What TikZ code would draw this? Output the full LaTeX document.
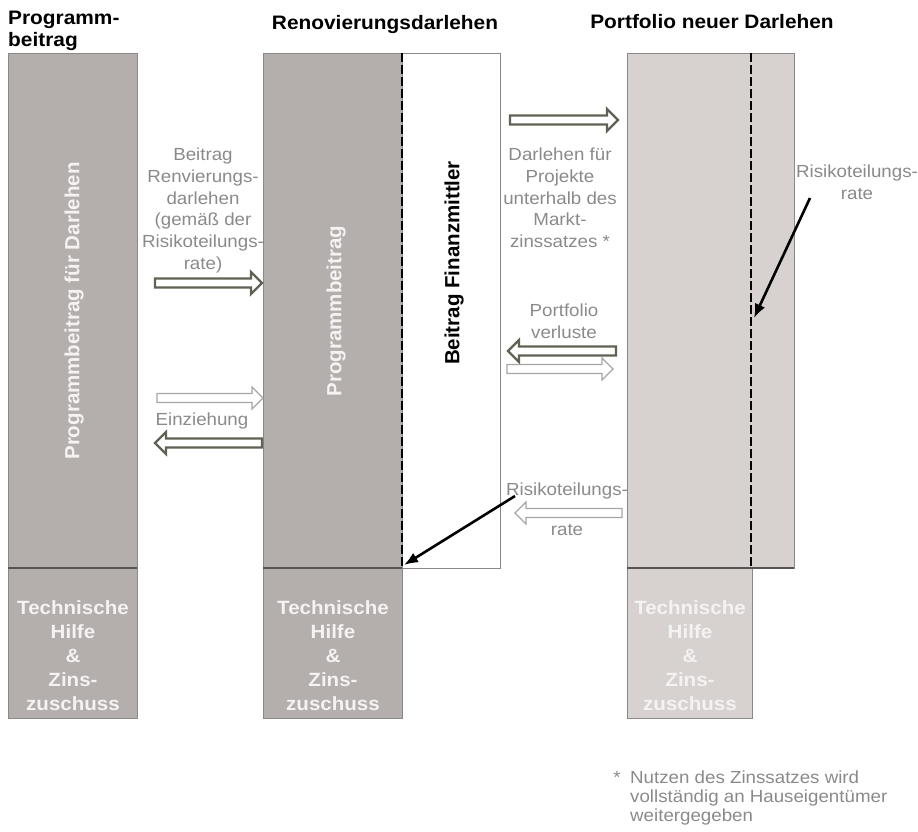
\documentclass[tikz,border=0pt]{standalone}
\usepackage{fontspec}
\setmainfont[FakeStretch=1.07]{Liberation Sans}
\newfontfamily\rotfont{Liberation Sans}
\usetikzlibrary{arrows.meta}
\definecolor{colgray}{HTML}{B4AEAC}
\definecolor{collight}{HTML}{D7D2D0}
\definecolor{edgegray}{HTML}{8C8888}
\definecolor{divgray}{HTML}{555555}
\definecolor{labelgray}{HTML}{8A8A8A}
\definecolor{arrowdark}{HTML}{5F6353}
\definecolor{arrowlight}{HTML}{A6A6A6}
\definecolor{boxtext}{HTML}{F4F2F2}
\newcommand\rblockarrow[4]{% style, xstart, xtip, y
  \draw[#1] (#2,#4-4.5) -- (#3-11,#4-4.5) -- (#3-11,#4-11) -- (#3,#4) -- (#3-11,#4+11) -- (#3-11,#4+4.5) -- (#2,#4+4.5) -- cycle;}
\newcommand\lblockarrow[4]{% style, xtip, xend, y
  \draw[#1] (#3,#4-4.5) -- (#2+11,#4-4.5) -- (#2+11,#4-11) -- (#2,#4) -- (#2+11,#4+11) -- (#2+11,#4+4.5) -- (#3,#4+4.5) -- cycle;}
\tikzset{
  colbox/.style={fill=colgray, draw=edgegray, line width=0.8pt},
  lightbox/.style={fill=collight, draw=edgegray, line width=0.8pt},
  whitebox/.style={fill=white, draw=edgegray, line width=0.8pt},
  divider/.style={draw=divgray, line width=1.1pt},
  dashline/.style={draw=black, line width=2.8pt, dash pattern=on 9pt off 3pt},
  darkarr/.style={draw=arrowdark, line width=2.2pt, fill=white, line join=miter},
  lightarr/.style={draw=arrowlight, line width=1.3pt, fill=white, line join=miter},
  blackarr/.style={line width=2.6pt, -{Latex[length=14pt,width=11pt]}},
  title/.style={font=\bfseries\fontsize{19.5}{22}\selectfont, inner sep=0pt, text=black},
  graylabel/.style={text=labelgray, font=\fontsize{17.5}{21.7}\selectfont, align=center, inner sep=0pt},
  boxlabel/.style={text=boxtext, font=\bfseries\fontsize{19.2}{24}\selectfont, align=center, inner sep=0pt},
  rottext/.style={font=\rotfont\bfseries\fontsize{20.5}{24}\selectfont, inner sep=0pt, rotate=90},
}
\begin{document}
\begin{tikzpicture}[x=1pt, y=-1pt]
\useasboundingbox (0,0) rectangle (918,831);
% columns
\draw[colbox] (8,53) rectangle (137,568);
\draw[colbox] (8,568) rectangle (137,718);
\draw[divider] (8,568) -- (137,568);
\draw[colbox] (263,53) rectangle (402,568);
\draw[whitebox] (402,53) rectangle (500,568);
\draw[colbox] (263,568) rectangle (402,718);
\draw[divider] (263,568) -- (402,568);
\draw[lightbox] (627,53) rectangle (794,568);
\draw[lightbox] (627,568) rectangle (752,718);
\draw[divider] (627,568) -- (794,568);
\draw[dashline] (402,53) -- (402,568);
\draw[dashline] (751,53) -- (751,568);
% titles
\node[title, anchor=north west, align=left] (t1) at (8,11) {Programm-\\beitrag};
\node[title, anchor=base] (t2) at (385,29) {Renovierungsdarlehen};
\node[title, anchor=base] (t3) at (712,28) {Portfolio neuer Darlehen};
% rotated texts
\node[rottext, text=boxtext] (rl) at (74,311) {Programmbeitrag für Darlehen};
\node[rottext, text=boxtext] (rm) at (336,311) {Programmbeitrag};
\node[rottext, text=black] (rf) at (454,263) {Beitrag Finanzmittler};
% bottom boxes
\node[boxlabel, anchor=north] (b1) at (73,600) {Technische\\Hilfe\\\&\\Zins-\\zuschuss};
\node[boxlabel, anchor=north] (b2) at (333,600) {Technische\\Hilfe\\\&\\Zins-\\zuschuss};
\node[boxlabel, anchor=north] (b3) at (690,600) {Technische\\Hilfe\\\&\\Zins-\\zuschuss};
% gray labels
\node[graylabel, anchor=north] (l1) at (203,148) {Beitrag\\Renvierungs-\\darlehen\\(gemäß der\\Risikoteilungs-\\rate)};
\node[graylabel, anchor=north] (l2) at (202,413) {Einziehung};
\node[graylabel, anchor=north] (l3) at (560,148) {Darlehen für\\Projekte\\unterhalb des\\Markt-\\zinssatzes *};
\node[graylabel, anchor=north] (l4) at (564,304) {Portfolio\\verluste};
\node[graylabel, anchor=north] (l5) at (567,483) {Risikoteilungs-};
\node[graylabel, anchor=north] (l6) at (567,524) {rate};
\node[graylabel, anchor=north] (l7) at (857,165) {Risikoteilungs-\\rate};
% block arrows
\rblockarrow{darkarr}{155}{262}{283}
\rblockarrow{lightarr}{157}{263}{398}
\lblockarrow{darkarr}{155}{262}{443}
\rblockarrow{darkarr}{510}{618}{120}
\lblockarrow{darkarr}{508}{616}{351}
\rblockarrow{lightarr}{507}{613}{369}
\lblockarrow{lightarr}{515}{622}{513}
% black arrows
\coordinate (a1s) at (515,496);
\coordinate (a1e) at (404,565);
\draw[blackarr] (a1s) -- (a1e);
\coordinate (a2s) at (810,198);
\coordinate (a2e) at (754,318);
\draw[blackarr] (a2s) -- (a2e);
% footnote
\node[text=labelgray, font=\fontsize{17.5}{19}\selectfont, inner sep=0pt, anchor=north] (fs) at (617,771) {*};
\node[text=labelgray, font=\fontsize{17.5}{19}\selectfont, inner sep=0pt, anchor=north west, align=left] (fn) at (630,771) {Nutzen des Zinssatzes wird\\vollständig an Hauseigentümer\\weitergegeben};
\end{tikzpicture}
\end{document}
